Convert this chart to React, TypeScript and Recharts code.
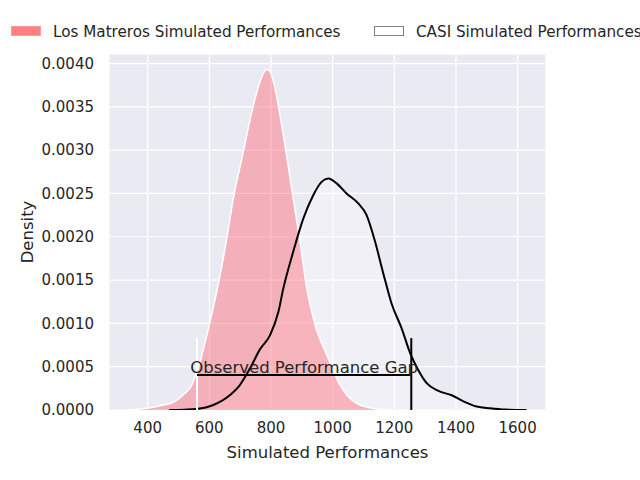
import React from 'react';
import { ComposedChart, Area, XAxis, YAxis, CartesianGrid, ReferenceLine } from 'recharts';

// KDE of Los Matreros simulations
const losMatrerosX = [337, 407, 451, 483, 515, 543, 570, 597, 624, 651, 678, 710, 743, 764, 778, 788, 798, 813, 840, 867, 894, 916, 943, 981, 1024, 1078, 1143, 1186];
const losMatrerosY = [0, 0.000027, 0.000058, 0.000089, 0.000173, 0.000288, 0.000557, 0.000942, 0.001365, 0.001865, 0.002442, 0.00298, 0.00352, 0.003788, 0.0039, 0.00393, 0.0039, 0.003712, 0.003173, 0.002558, 0.001942, 0.001404, 0.000981, 0.000635, 0.000288, 0.000077, 0.000012, 0];

// KDE of CASI simulations
const casiX = [470, 520, 559, 613, 667, 699, 732, 764, 797, 824, 840, 872, 905, 937, 964, 986, 1013, 1045, 1083, 1110, 1137, 1164, 1191, 1224, 1251, 1278, 1305, 1343, 1386, 1424, 1467, 1510, 1560, 1629];
const casiY = [0, 0.000004, 0.000012, 0.000058, 0.000173, 0.000288, 0.000481, 0.0007, 0.000865, 0.001134, 0.001404, 0.001827, 0.002212, 0.00248, 0.002634, 0.002673, 0.002616, 0.0025, 0.002385, 0.00225, 0.00195, 0.00158, 0.00123, 0.00094, 0.00066, 0.00046, 0.00031, 0.00022, 0.00017, 0.0001, 0.00004, 0.00002, 0.000005, 0];

const xTicks = [400, 600, 800, 1000, 1200, 1400, 1600];
const yTicks = [0, 0.0005, 0.001, 0.0015, 0.002, 0.0025, 0.003, 0.0035, 0.004];

// observed gap annotation
const gapStart = 560;
const gapEnd = 1255;
const gapLevel = 0.000404;
const markerTop = 0.00083;

const legendItems = [
  { name: 'Los Matreros Simulated Performances', fill: '#ff8080', border: '#ff9a9a' },
  { name: 'CASI Simulated Performances', fill: '#ffffff', border: '#808080' },
];

const font = 'DejaVu Sans, sans-serif';
const ink = '#262626';

const allX = Array.from(new Set([...losMatrerosX, ...casiX])).sort((a, b) => a - b);
const data = allX.map((x) => {
  const i = losMatrerosX.indexOf(x);
  const j = casiX.indexOf(x);
  return {
    x,
    lm: i >= 0 ? losMatrerosY[i] : null,
    casi: j >= 0 ? casiY[j] : null,
  };
});

const legendLeft = [11, 374];

const App: React.FC = () => (
  <div style={{ position: 'absolute', left: 0, top: 0, width: 640, height: 480, overflow: 'hidden', background: '#fff', fontFamily: font }}>
    <ComposedChart width={640} height={480} data={data} margin={{ top: 54, right: 94, bottom: 0, left: 0 }}>
      <CartesianGrid fill="#eaeaf2" fillOpacity={1} stroke="#ffffff" strokeWidth={1.2} />
      <XAxis
        type="number"
        dataKey="x"
        domain={[274.5, 1692]}
        ticks={xTicks}
        axisLine={false}
        tickLine={false}
        tickSize={0}
        tickMargin={12}
        height={70}
        tick={{ fill: ink, fontSize: 15, fontFamily: font }}
        label={{ value: 'Simulated Performances', position: 'insideBottom', offset: 22, fill: ink, fontSize: 16.5, fontFamily: font }}
        allowDataOverflow
      />
      <YAxis
        type="number"
        domain={[0, 0.00411]}
        ticks={yTicks}
        axisLine={false}
        tickLine={false}
        tickSize={0}
        tickMargin={15}
        width={109}
        tickFormatter={(v: number) => v.toFixed(4)}
        tick={{ fill: ink, fontSize: 15, fontFamily: font }}
        label={{ value: 'Density', angle: -90, position: 'insideLeft', offset: 27, fill: ink, fontSize: 16.5, fontFamily: font, style: { textAnchor: 'middle' } }}
        allowDataOverflow
      />
      {/* CASI fill goes under the pink KDE, its outline on top */}
      <Area
        type="monotone"
        dataKey="casi"
        connectNulls
        fill="#ffffff"
        fillOpacity={0.3}
        stroke="none"
        isAnimationActive={false}
        dot={false}
        activeDot={false}
        legendType="none"
      />
      <Area
        type="monotone"
        dataKey="lm"
        connectNulls
        fill="#ff6a76"
        fillOpacity={0.45}
        stroke="#ffffff"
        strokeWidth={1.5}
        isAnimationActive={false}
        dot={false}
        activeDot={false}
      />
      <Area
        type="monotone"
        dataKey="casi"
        connectNulls
        fill="none"
        stroke="#000000"
        strokeWidth={2}
        isAnimationActive={false}
        dot={false}
        activeDot={false}
      />
      <ReferenceLine segment={[{ x: gapStart, y: 0 }, { x: gapStart, y: markerTop }]} stroke="#ffffff" strokeWidth={2} />
      <ReferenceLine segment={[{ x: gapEnd, y: 0 }, { x: gapEnd, y: markerTop }]} stroke="#000000" strokeWidth={2} />
      <ReferenceLine
        segment={[{ x: gapStart, y: gapLevel }, { x: gapEnd, y: gapLevel }]}
        stroke="#000000"
        strokeWidth={2}
        label={{ value: 'Observed Performance Gap', position: 'top', offset: 2, fill: ink, fontSize: 16.5, fontFamily: font }}
      />
    </ComposedChart>
    {legendItems.map((item, k) => (
      <div key={item.name} style={{ position: 'absolute', left: legendLeft[k], top: 21, height: 19, whiteSpace: 'nowrap' }}>
        <span
          style={{
            position: 'absolute',
            left: 0,
            top: 5,
            width: 30,
            height: 10,
            boxSizing: 'border-box',
            background: item.fill,
            border: `1px solid ${item.border}`,
          }}
        />
        <span style={{ position: 'absolute', left: 42, top: 1.5, lineHeight: '19px', fontSize: 15.2, color: ink }}>{item.name}</span>
      </div>
    ))}
  </div>
);

export default App;
